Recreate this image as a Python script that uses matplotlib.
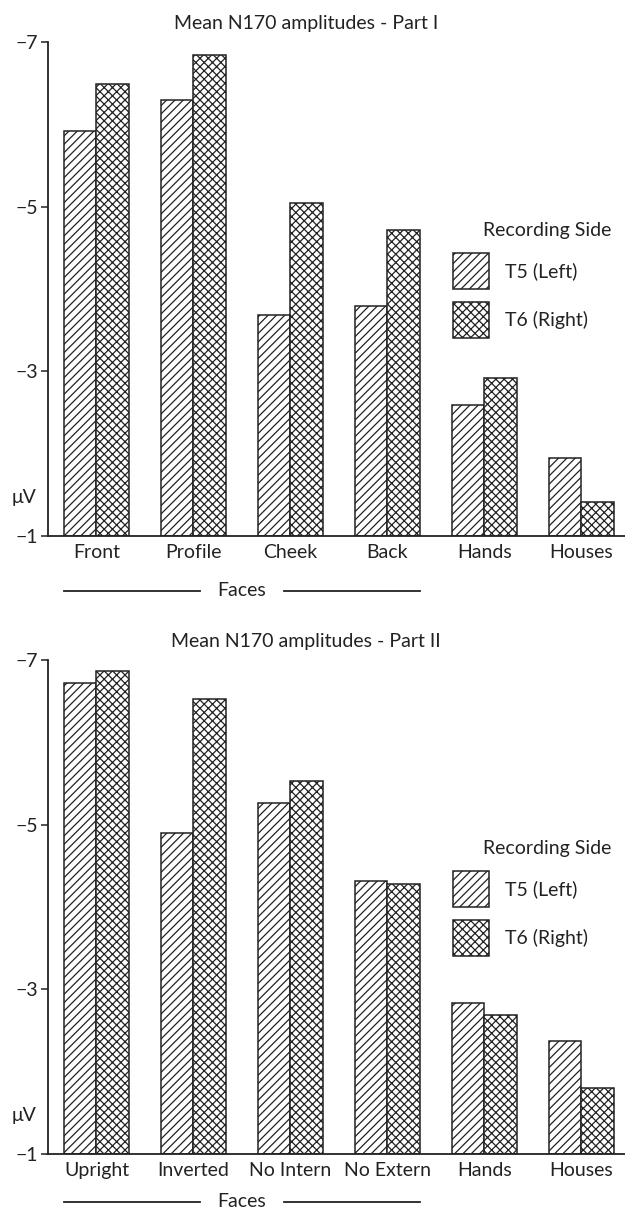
import numpy as np
import matplotlib.pyplot as plt
from matplotlib.patches import Rectangle
import matplotlib.transforms as mtransforms

plt.rcParams['font.family'] = ['Lato', 'DejaVu Sans']
plt.rcParams['hatch.linewidth'] = 0.9
plt.rcParams['hatch.color'] = '#222222'
plt.rcParams['axes.unicode_minus'] = True

ink = '#222222'

# data (microvolts)
cats1 = ['Front', 'Profile', 'Cheek', 'Back', 'Hands', 'Houses']
t5_1 = [-5.92, -6.30, -3.68, -3.79, -2.59, -1.95]
t6_1 = [-6.49, -6.84, -5.05, -4.72, -2.92, -1.41]

cats2 = ['Upright', 'Inverted', 'No Intern', 'No Extern', 'Hands', 'Houses']
t5_2 = [-6.72, -4.90, -5.26, -4.32, -2.84, -2.37]
t6_2 = [-6.87, -6.53, -5.53, -4.28, -2.69, -1.80]

yticks = [-7, -5, -3, -1]
series = ['T5 (Left)', 'T6 (Right)']
hatches = ['////', 'xxxx']
n_faces = 4

fig = plt.figure(figsize=(6.25, 12.11), dpi=100)
W, H = 625, 1211
fs = 14


def draw_panel(ax, cats, t5, t6, title, title_y, faces_y):
    x = np.arange(len(cats))
    w = 0.335
    base = yticks[-1]
    for vals, off, h in [(t5, -w / 2, hatches[0]), (t6, w / 2, hatches[1])]:
        vals = np.array(vals)
        ax.bar(x + off, vals - base, w, bottom=base, facecolor='white',
               edgecolor=ink, linewidth=1.1, hatch=h)
    ax.set_ylim(base, yticks[0])
    ax.set_xlim(-0.5, 5.45)
    ax.set_yticks(yticks)
    ax.set_yticklabels(['\u2212' + str(abs(t)) for t in yticks])
    ax.set_xticks(x)
    ax.set_xticklabels(cats)
    ax.tick_params(axis='x', length=0, pad=6, labelsize=fs, colors=ink)
    ax.tick_params(axis='y', length=5, width=1.1, pad=2, labelsize=fs, colors=ink)
    for s in ['top', 'right']:
        ax.spines[s].set_visible(False)
    for s in ['left', 'bottom']:
        ax.spines[s].set_color(ink)
        ax.spines[s].set_linewidth(1.3)

    ax.text(-0.042, -1.47, '\u03bcV', transform=ax.get_yaxis_transform(),
            ha='center', va='center', fontsize=fs, color=ink)

    fig.text(306 / W, title_y, title, ha='center', va='center',
             fontsize=fs, color=ink)

    # legend
    ax.text(0.754, 0.619, 'Recording Side', transform=ax.transAxes,
            ha='left', va='center', fontsize=fs, color=ink)
    for i, (lab, h) in enumerate(zip(series, hatches)):
        yb = 0.5 - i * 0.1
        ax.add_patch(Rectangle((0.702, yb), 0.0624, 0.0729, transform=ax.transAxes,
                               facecolor='white', edgecolor=ink, linewidth=1.1,
                               hatch=h, clip_on=False))
        ax.text(0.792, yb + 0.0365, lab, transform=ax.transAxes,
                ha='left', va='center', fontsize=fs, color=ink)

    # "Faces" bracket under the first four groups
    tr = mtransforms.blended_transform_factory(ax.transData, ax.transAxes)
    mid = (n_faces - 1) / 2
    left = -w
    right = n_faces - 1 + w
    ax.plot([left, mid - 0.43], [faces_y, faces_y], color=ink, lw=1.3,
            transform=tr, clip_on=False)
    ax.plot([mid + 0.43, right], [faces_y, faces_y], color=ink, lw=1.3,
            transform=tr, clip_on=False)
    ax.text(mid, faces_y, 'Faces', transform=tr, ha='center', va='center',
            fontsize=fs, color=ink)


ax_l = 48 / W
ax_w = 1 - ax_l
ax_h = 494 / H
ax1 = fig.add_axes([ax_l, 1 - 536 / H, ax_w, ax_h])
ax2 = fig.add_axes([ax_l, 1 - 1154 / H, ax_w, ax_h])

draw_panel(ax1, cats1, t5_1, t6_1, 'Mean N170 amplitudes - Part I', 1 - 23 / H, -0.111)
draw_panel(ax2, cats2, t5_2, t6_2, 'Mean N170 amplitudes - Part II', 1 - 641 / H, -0.097)

fig.savefig('out.png', dpi=100)
